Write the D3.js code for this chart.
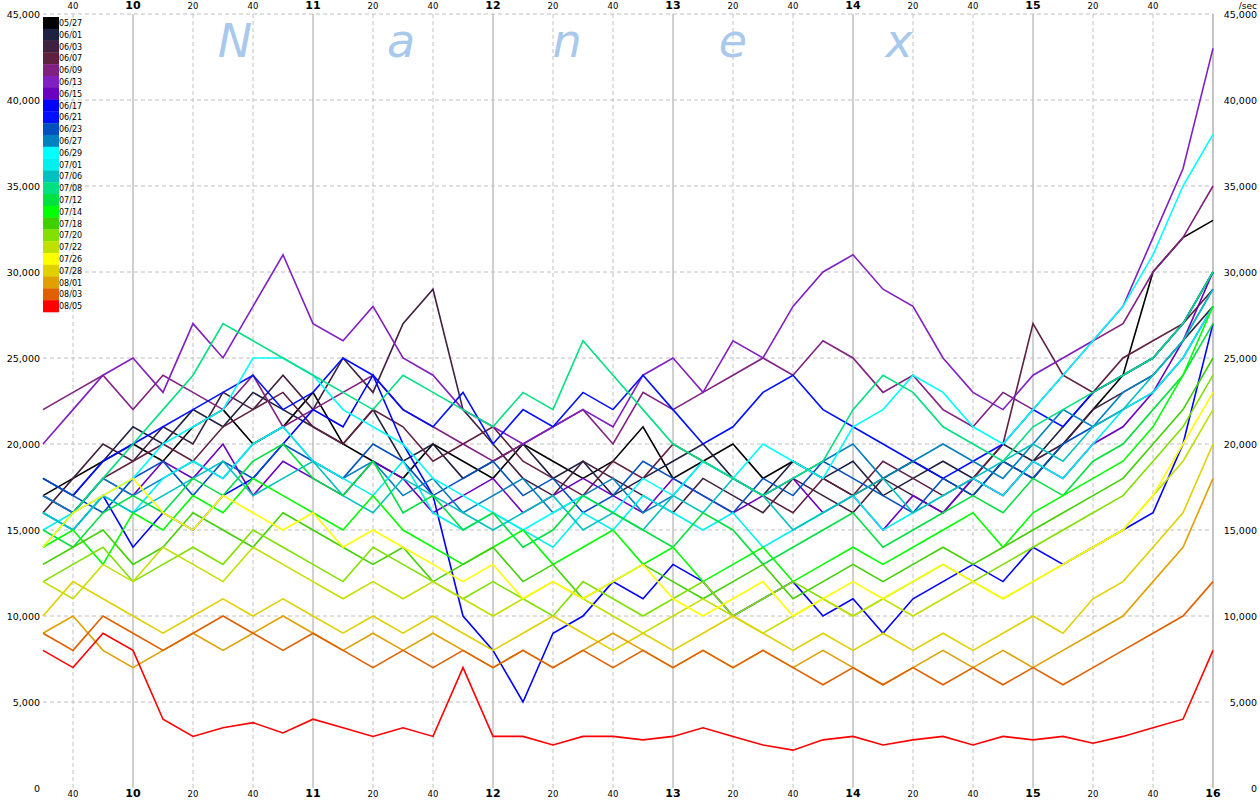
<!DOCTYPE html>
<html><head><meta charset="utf-8">
<script src="https://cdn.jsdelivr.net/npm/d3@7"></script>
<style>body{margin:0;background:#fff}svg{display:block}</style>
</head><body>
<svg id="c" width="1260" height="800"></svg>
<script>
// Series labels and colours (legend order)
const labels = ["05/27","06/01","06/03","06/07","06/09","06/13","06/15","06/17","06/21","06/23","06/27","06/29","07/01","07/06","07/08","07/12","07/14","07/18","07/20","07/22","07/26","07/28","08/01","08/03","08/05"];
const colors = ["#000000","#202040","#40203f","#602040","#802080","#8020c0","#6a00c0","#0000ff","#0010ff","#0050c0","#0080c0","#00ffff","#00f0f0","#00c0c0","#00e080","#00e040","#00ff00","#40d000","#80e000","#c0e000","#ffff00","#e0d000","#e0a000","#e06000","#ff0000"];
// Time samples: minutes after 9:30, every 10 minutes to 16:00
const minutes = [0,10,20,30,40,50,60,70,80,90,100,110,120,130,140,150,160,170,180,190,200,210,220,230,240,250,260,270,280,290,300,310,320,330,340,350,360,370,380,390];
// Messages per second, in thousands, per series
const s0527 = [17,18,19,20,19,21,22,20,21,23,20,19,18,20,19,18,20,19,18,19,21,18,19,20,18,19,18,17,18,19,18,17,19,18,20,22,24,30,32,33];
const s0601 = [18,17,19,21,20,22,21,23,22,21,20,22,19,20,18,19,20,18,19,17,18,19,20,18,17,19,18,19,17,18,19,18,20,19,21,23,24,25,27,30];
const s0603 = [16,18,20,19,21,20,23,22,24,22,25,23,27,29,22,20,18,17,19,18,17,16,18,17,16,18,17,16,18,17,16,18,17,19,20,22,23,24,26,28];
const s0607 = [17,16,18,19,20,19,21,22,23,21,20,22,21,19,20,21,19,18,17,19,18,20,19,18,17,16,18,17,19,18,17,18,20,27,24,23,25,26,27,29];
const s0609 = [22,23,24,22,24,23,22,24,21,22,23,24,22,21,20,19,20,21,22,20,23,22,23,24,25,24,26,25,23,24,22,21,23,22,24,26,27,30,32,35];
const s0613 = [20,22,24,25,23,27,25,28,31,27,26,28,25,24,22,21,20,21,22,21,24,25,23,26,25,28,30,31,29,28,25,23,22,24,25,26,28,32,36,43];
const s0615 = [17,16,18,17,19,18,20,17,19,18,17,19,18,16,17,18,16,17,18,17,16,18,17,16,17,18,16,17,15,17,16,18,17,19,18,20,21,23,26,30];
const s0617 = [16,15,17,14,16,15,17,18,20,22,21,24,20,17,10,8,5,9,10,12,11,13,12,10,11,12,10,11,9,11,12,13,12,14,13,14,15,16,20,27];
const s0621 = [18,17,19,20,21,22,23,24,22,23,25,24,22,21,23,20,22,21,23,22,24,22,20,21,23,24,22,21,20,19,18,19,20,22,21,23,24,25,27,30];
const s0623 = [18,17,16,18,19,17,19,18,20,19,18,20,19,17,18,19,17,18,16,17,19,18,17,16,18,17,19,18,17,16,18,17,19,18,20,21,22,23,25,28];
const s0627 = [17,16,18,17,18,19,18,20,21,19,18,19,17,18,16,17,18,16,17,18,16,17,19,18,17,18,19,20,18,19,20,19,18,20,22,21,23,24,26,29];
const s0629 = [16,15,17,18,20,21,22,25,25,24,22,21,20,18,17,16,15,16,17,16,18,17,19,18,20,19,18,21,22,24,23,21,20,22,24,26,28,31,35,38];
const s0701 = [15,16,17,16,18,19,18,20,21,19,18,17,19,16,15,16,15,14,16,15,17,16,15,16,14,15,16,17,15,16,17,18,17,19,18,20,22,23,25,28];
const s0706 = [16,15,17,16,17,18,19,17,18,19,17,16,18,17,16,15,16,17,15,16,15,17,16,18,17,15,16,17,18,16,17,18,19,20,19,21,22,24,26,29];
const s0708 = [14,16,18,20,22,24,27,26,25,24,23,22,24,23,22,21,23,22,26,24,22,20,19,18,17,18,19,22,24,23,21,20,19,21,22,23,24,25,27,30];
const s0712 = [15,14,16,17,16,18,17,19,20,18,17,19,16,17,15,16,14,15,17,16,15,14,16,15,13,14,15,16,14,15,16,17,16,18,17,19,20,22,24,27];
const s0714 = [14,15,13,16,15,17,16,18,17,16,15,17,15,14,13,14,15,13,14,15,13,14,12,13,14,12,13,14,13,14,15,16,14,16,17,18,19,21,24,28];
const s0718 = [13,14,15,13,14,16,15,14,16,15,14,13,14,12,13,14,12,13,11,12,13,12,11,12,13,11,12,13,12,13,14,13,14,15,16,17,18,20,22,25];
const s0720 = [12,13,14,12,13,14,13,15,14,13,12,14,13,12,11,12,11,10,12,11,10,11,12,10,11,12,11,10,11,12,13,12,13,14,15,16,17,19,21,24];
const s0722 = [12,11,13,12,14,13,12,14,13,12,11,12,11,12,11,10,11,12,11,10,9,10,11,10,9,10,11,10,11,10,11,12,11,12,13,14,15,17,19,22];
const s0726 = [14,16,17,18,16,15,17,16,15,16,14,15,14,13,12,13,11,12,11,12,13,11,10,11,12,10,11,12,11,12,13,12,11,12,13,14,15,17,20,23];
const s0728 = [10,12,11,10,9,10,11,10,11,10,9,10,9,10,9,8,9,10,9,8,9,8,9,10,9,8,9,8,9,8,9,8,9,10,9,11,12,14,16,20];
const s0801 = [9,10,8,7,8,9,8,9,10,9,8,9,8,9,8,7,8,7,8,9,8,7,8,7,8,7,8,7,6,7,8,7,8,7,8,9,10,12,14,18];
const s0803 = [9,8,10,9,8,9,10,9,8,9,8,7,8,7,8,7,8,7,8,7,8,7,8,7,8,7,6,7,6,7,6,7,6,7,6,7,8,9,10,12];
const s0805 = [8,7,9,8,4,3,3.5,3.8,3.2,4,3.5,3,3.5,3,7,3,3,2.5,3,3,2.8,3,3.5,3,2.5,2.2,2.8,3,2.5,2.8,3,2.5,3,2.8,3,2.6,3,3.5,4,8];
const seriesValues = [s0527,s0601,s0603,s0607,s0609,s0613,s0615,s0617,s0621,s0623,s0627,s0629,s0701,s0706,s0708,s0712,s0714,s0718,s0720,s0722,s0726,s0728,s0801,s0803,s0805];
const yTicks = [0,5000,10000,15000,20000,25000,30000,35000,40000,45000];
const watermark = ["N","a","n","e","x"];

const svg = d3.select("#c");
const L=43,R=1213,T=14,B=788;
const t0 = new Date(2011,0,1,9,30), t1 = new Date(2011,0,1,16,0);
const x = d3.scaleTime().domain([t0,t1]).range([L,R]);
const y = d3.scaleLinear().domain([0,45000]).range([B,T]);
const tm = m => new Date(t0.getTime()+m*60000);

// grid
const minorTimes = d3.timeMinute.every(20).range(t0, d3.timeMinute.offset(t1,1)).filter(d=>d.getMinutes()!==0);
const hourTimes = d3.timeHour.range(new Date(2011,0,1,10), d3.timeMinute.offset(t1,1));
const g = svg.append("g");
g.selectAll(".vm").data(minorTimes).join("line").attr("x1",d=>x(d)).attr("x2",d=>x(d)).attr("y1",T).attr("y2",B)
 .attr("stroke","#c0c0c0").attr("stroke-dasharray","4,3");
g.selectAll(".yg").data(yTicks.slice(1)).join("line").attr("x1",L).attr("x2",R).attr("y1",d=>y(d)).attr("y2",d=>y(d))
 .attr("stroke","#c0c0c0").attr("stroke-dasharray","4,3");
g.selectAll(".vh").data(hourTimes).join("line").attr("x1",d=>x(d)).attr("x2",d=>x(d)).attr("y1",T).attr("y2",B)
 .attr("stroke","#c0c0c0").attr("stroke-width",1.5);
svg.append("line").attr("x1",R).attr("x2",R).attr("y1",T).attr("y2",B).attr("stroke","#c0c0c0").attr("stroke-width",1.5);

// watermark
svg.selectAll(".wm").data(watermark).join("text").attr("x",(d,i)=>235+i*166).attr("y",57)
 .attr("text-anchor","middle").attr("font-family","DejaVu Sans").attr("font-style","italic")
 .attr("font-size",46).attr("fill","#a8c8ec").text(d=>d);

// lines
const line = d3.line().x((d,i)=>x(tm(minutes[i]))).y(d=>y(d*1000)).curve(d3.curveLinear);
svg.append("g").selectAll("path").data(seriesValues).join("path").attr("d",line)
 .attr("fill","none").attr("stroke",(d,i)=>colors[i]).attr("stroke-width",1.6);

// axes text
const fmt = d3.format(",");
const allTimes = minorTimes.concat(hourTimes);
function timeLabels(yy, includeEnd){
  svg.append("g").selectAll("text").data(allTimes.filter(d=>includeEnd||d<t1)).join("text")
   .attr("x",d=>x(d)).attr("y",yy).attr("text-anchor","middle").attr("font-family","DejaVu Sans")
   .attr("font-size",d=>d.getMinutes()===0?11:8.5).attr("font-weight",d=>d.getMinutes()===0?"bold":"normal")
   .text(d=>d.getMinutes()===0?d.getHours():d.getMinutes());
}
timeLabels(9,false);
timeLabels(797,true);
svg.append("g").selectAll("text").data(yTicks).join("text").attr("x",40).attr("y",d=>y(d)+4)
 .attr("text-anchor","end").attr("font-family","DejaVu Sans").attr("font-size",9.5).text(d=>fmt(d));
svg.append("g").selectAll("text").data(yTicks).join("text").attr("x",1257).attr("y",d=>y(d)+4)
 .attr("text-anchor","end").attr("font-family","DejaVu Sans").attr("font-size",9.5).text(d=>fmt(d));
svg.append("text").attr("x",1257).attr("y",9).attr("text-anchor","end").attr("font-family","DejaVu Sans").attr("font-size",9).text("/sec");

// legend
const lh = 11.8;
const lg = svg.append("g");
lg.selectAll("rect").data(labels).join("rect").attr("x",43).attr("y",(d,i)=>17+i*lh).attr("width",16).attr("height",lh+0.3)
 .attr("fill",(d,i)=>colors[i]);
lg.selectAll("text").data(labels).join("text").attr("x",59).attr("y",(d,i)=>17+i*lh+9).attr("font-family","DejaVu Sans")
 .attr("font-size",8).text(d=>d);
</script>
</body></html>
